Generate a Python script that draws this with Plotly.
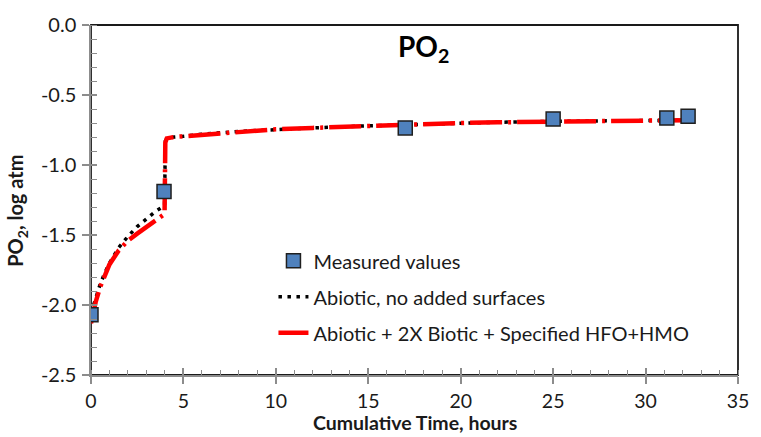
import plotly.graph_objects as go

# ---------------- data ----------------
t_meas = [0.0, 3.95, 17.0, 25.0, 31.15, 32.3]
po2_meas = [-2.07, -1.19, -0.735, -0.672, -0.665, -0.651]

t_abio = [0.0, 0.25, 0.5, 0.75, 1.0, 1.5, 2.0, 2.5, 3.0, 3.5, 3.98, 4.02, 4.1, 4.5,
          5, 6, 8, 10, 12, 15, 17, 20, 22, 25, 28, 30, 32.3]
po2_abio = [-2.06, -1.96, -1.85, -1.77, -1.70, -1.59, -1.51, -1.44, -1.385, -1.33, -1.29, -0.83,
            -0.81, -0.80, -0.795, -0.78, -0.76, -0.745, -0.735, -0.72, -0.712, -0.70, -0.695,
            -0.688, -0.685, -0.683, -0.68]

t_bio = [0.0, 0.25, 0.5, 0.75, 1.0, 1.5, 2.0, 2.5, 3.0, 3.5, 3.98, 4.02, 4.1, 4.5,
         5, 6, 8, 10, 12, 15, 17, 20, 22, 25, 28, 30, 32.3]
po2_bio = [-2.13, -1.98, -1.87, -1.78, -1.71, -1.61, -1.54, -1.49, -1.445, -1.395, -1.35, -0.84,
           -0.81, -0.80, -0.795, -0.78, -0.76, -0.745, -0.735, -0.72, -0.712, -0.70, -0.695,
           -0.688, -0.685, -0.683, -0.68]

x_ticks = [0, 5, 10, 15, 20, 25, 30, 35]
y_ticks = [0.0, -0.5, -1.0, -1.5, -2.0, -2.5]
y_tick_labels = ["0.0", "-0.5", "-1.0", "-1.5", "-2.0", "-2.5"]

name_meas = "Measured values"
name_abio = "Abiotic, no added surfaces"
name_bio = "Abiotic + 2X Biotic + Specified HFO+HMO"

FONT = "Lato"
TXT = "#1a1a1a"
AX = "#8c8c8c"

fig = go.Figure()

fig.add_trace(go.Scatter(
    x=t_abio, y=po2_abio, mode="lines", name=name_abio,
    line=dict(color="black", width=3.5, dash="3.5px,5.5px"),
    legendgroup="b", legendrank=2))

fig.add_trace(go.Scatter(
    x=t_bio, y=po2_bio, mode="lines", name=name_bio,
    line=dict(color="#ff0000", width=4.5, dash="32px,6px,3px,6px"),
    legendgroup="c", legendrank=3))

fig.add_trace(go.Scatter(
    x=t_meas, y=po2_meas, mode="markers", name=name_meas,
    marker=dict(symbol="square", size=14, color="#4f81bd",
                line=dict(color="#1f1f1f", width=1.5)),
    legendgroup="a", legendrank=1))

# invisible trace for the overlay axes (inside half of the crossing major ticks)
fig.add_trace(go.Scatter(x=[None], y=[None], xaxis="x2", yaxis="y2",
                         showlegend=False, hoverinfo="skip"))

fig.update_layout(
    width=761, height=437,
    margin=dict(l=91, r=14, t=18, b=62),
    paper_bgcolor="white", plot_bgcolor="white",
    font=dict(family=FONT, size=20, color=TXT),
    showlegend=True,
    legend=dict(x=0.282, y=0.382, xanchor="left", yanchor="top",
                bgcolor="rgba(0,0,0,0)", borderwidth=0,
                traceorder="grouped", tracegroupgap=7,
                font=dict(family=FONT, size=20, color=TXT)),
    xaxis=dict(range=[0, 35], tickvals=x_ticks, ticks="outside", ticklen=7,
               tickcolor=AX, tickwidth=1.5, showline=True, linecolor=AX, linewidth=1.5,
               showgrid=False, zeroline=False,
               minor=dict(dtick=1, ticks="inside", ticklen=5, tickcolor=AX, tickwidth=1.2),
               tickfont=dict(family=FONT, size=19.5, color=TXT), ticklabelstandoff=1),
    yaxis=dict(range=[-2.5, 0], tickvals=y_ticks, ticktext=y_tick_labels,
               ticks="outside", ticklen=7, tickcolor=AX, tickwidth=1.5,
               showline=True, linecolor=AX, linewidth=1.5,
               showgrid=False, zeroline=False,
               minor=dict(dtick=0.1, ticks="inside", ticklen=6, tickcolor=AX, tickwidth=1.2),
               tickfont=dict(family=FONT, size=20, color=TXT), ticklabelstandoff=2),
    xaxis2=dict(range=[0, 35], overlaying="x", tickvals=x_ticks, ticks="inside", ticklen=7,
                tickcolor=AX, tickwidth=1.5, showticklabels=False, showline=False,
                showgrid=False, zeroline=False),
    yaxis2=dict(range=[-2.5, 0], overlaying="y", tickvals=y_ticks, ticks="inside", ticklen=6,
                tickcolor=AX, tickwidth=1.5, showticklabels=False, showline=False,
                showgrid=False, zeroline=False),
    shapes=[dict(type="rect", xref="paper", yref="paper", x0=0, y0=0, x1=1, y1=1,
                 line=dict(color="#1a1a1a", width=1.8), layer="below")],
    annotations=[
        dict(text="<b>PO<sub>2</sub></b>", xref="paper", yref="paper", x=0.514, y=0.935,
             xanchor="center", yanchor="middle", showarrow=False,
             font=dict(family=FONT, size=28, color="black")),
        dict(text="<b>PO<sub>2</sub>, log atm</b>", xref="paper", yref="paper",
             x=-0.115, y=0.468, xanchor="center", yanchor="middle", textangle=-90,
             showarrow=False, font=dict(family=FONT, size=20, color=TXT)),
        dict(text="<b>Cumulative Time, hours</b>", xref="paper", yref="paper",
             x=0.5, y=-0.1735, xanchor="center", yanchor="bottom",
             showarrow=False, font=dict(family=FONT, size=19.5, color=TXT)),
    ],
)

fig.write_html("out.html")
